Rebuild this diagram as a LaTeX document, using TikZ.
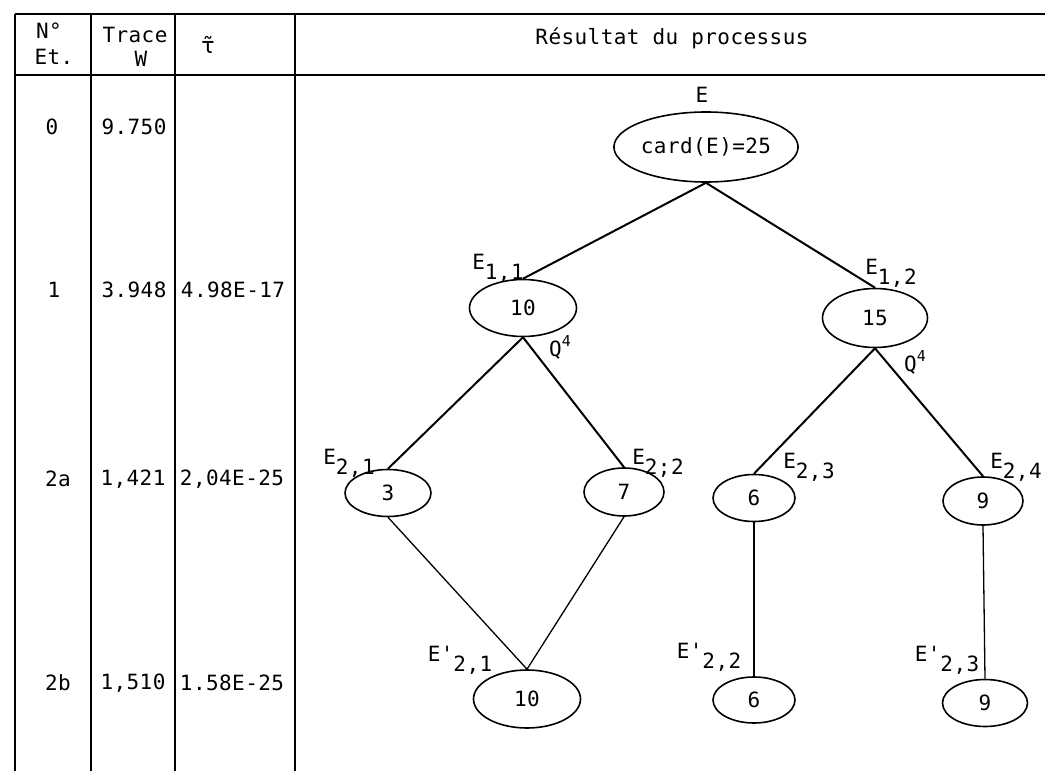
\documentclass[tikz,border=0pt]{standalone}
\usepackage{fontspec}
\newfontfamily\tw[LetterSpace=2]{DejaVu Sans Mono}
\newfontfamily\tausans{DejaVu Sans}
\usetikzlibrary{shapes.geometric}
\newcommand\sbx[1]{\raisebox{-10pt}{#1}}
\newcommand\spx[1]{\raisebox{10pt}{\fontsize{15}{15}\selectfont #1}}
\begin{document}
\begin{tikzpicture}[x=1pt,y=-1pt,
  txt/.style={font=\tw\fontsize{21}{24}\selectfont, inner sep=0pt},
  nd/.style={ellipse, draw, line width=1.6pt, inner sep=0pt, txt},
  gridline/.style={line width=1.6pt},
  thickedge/.style={line width=2pt},
  thinedge/.style={line width=1.3pt}]
\useasboundingbox (0,0) rectangle (1045,771);
% table rules
\draw[gridline] (15,14) -- (1045,14);
\draw[gridline] (15,75) -- (1045,75);
\foreach \xx in {15,91,175,295} \draw[gridline] (\xx,14) -- (\xx,771);
% headers
\node[txt] (hn) at (49,31) {N°};
\node[txt] (het) at (54,57) {Et.};
\node[txt] (htr) at (135,35) {Trace};
\node[txt] (hw) at (141,59) {W};
\node[txt, font=\tausans\fontsize{22}{24}\selectfont] (htau) at (208,45) {τ̃};
\node[txt] (hres) at (672,38) {Résultat du processus};
% rows
\node[txt] (r0a) at (52,127) {0};
\node[txt] (r0b) at (134,127) {9.750};
\node[txt] (r1a) at (54,290) {1};
\node[txt] (r1b) at (134,290) {3.948};
\node[txt] (r1c) at (233,290) {4.98E-17};
\node[txt] (r2a) at (58,479) {2a};
\node[txt] (r2b) at (133,479) {1,421};
\node[txt] (r2c) at (232,479) {2,04E-25};
\node[txt] (r3a) at (58,683) {2b};
\node[txt] (r3b) at (133,683) {1,510};
\node[txt] (r3c) at (232,683) {1.58E-25};
% tree nodes
\node[nd, minimum width=184pt, minimum height=70pt] (root) at (706,147) {card(E)=25};
\node[nd, minimum width=107pt, minimum height=57pt] (e11) at (523,308) {10};
\node[nd, minimum width=105pt, minimum height=59pt] (e12) at (875,318) {15};
\node[nd, minimum width=86pt, minimum height=47pt] (e21) at (388,493) {3};
\node[nd, minimum width=80pt, minimum height=48pt] (e22) at (624,492) {7};
\node[nd, minimum width=82pt, minimum height=47pt] (e23) at (754,498) {6};
\node[nd, minimum width=80pt, minimum height=48pt] (e24) at (983,501) {9};
\node[nd, minimum width=107pt, minimum height=58pt] (f21) at (527,699) {10};
\node[nd, minimum width=82pt, minimum height=46pt] (f22) at (754,700) {6};
\node[nd, minimum width=85pt, minimum height=47pt] (f23) at (985,703) {9};
% labels
\node[txt] (lroot) at (702,95) {E};
\node[txt] (l11) at (498,268) {E\sbx{1,1}};
\node[txt] (l12) at (891,273) {E\sbx{1,2}};
\node[txt] (q1) at (560,347) {Q\spx{4}};
\node[txt] (q2) at (915,362) {Q\spx{4}};
\node[txt] (l21) at (349,463) {E\sbx{2,1}};
\node[txt] (l22) at (658,463) {E\sbx{2;2}};
\node[txt] (l23) at (809,467) {E\sbx{2,3}};
\node[txt] (l24) at (1016,467) {E\sbx{2,4}};
\node[txt] (m21) at (460,660) {E'\sbx{2,1}};
\node[txt] (m22) at (709,657) {E'\sbx{2,2}};
\node[txt] (m23) at (947,660) {E'\sbx{2,3}};
% connectors
\draw[thickedge] (root.south) -- (e11.north);
\draw[thickedge] (root.south) -- (e12.north);
\draw[thickedge] (e11.south) -- (e21.north);
\draw[thickedge] (e11.south) -- (e22.north);
\draw[thickedge] (e12.south) -- (e23.north);
\draw[thickedge] (e12.south) -- (e24.north);
\draw[thinedge] (e21.south) -- (f21.north);
\draw[thinedge] (e22.south) -- (f21.north);
\draw[thinedge] (e23.south) -- (f22.north);
\draw[thinedge] (e24.south) -- (f23.north);
\end{tikzpicture}
\end{document}
